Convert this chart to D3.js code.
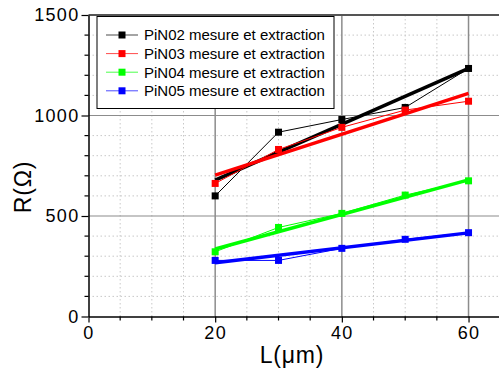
<!DOCTYPE html>
<html><head><meta charset="utf-8">
<script src="https://cdn.jsdelivr.net/npm/d3@7"></script>
<style>body{margin:0;background:#fff}svg{display:block}text{font-family:"Liberation Sans",Arial,sans-serif}</style>
</head><body>
<svg id="c" width="499" height="373"></svg>
<script>
const xValues = [20, 30, 40, 50, 60];
const pin02 = [600, 917, 980, 1040, 1234];
const pin03 = [662, 831, 941, 1027, 1071];
const pin04 = [322, 443, 513, 604, 675];
const pin05 = [279, 279, 339, 384, 417];
const fitX = [20, 60];
const fit02 = [678, 1234];
const fit03 = [703, 1110];
const fit04 = [336, 680];
const fit05 = [267, 416];
const seriesNames = ["PiN02 mesure et extraction", "PiN03 mesure et extraction", "PiN04 mesure et extraction", "PiN05 mesure et extraction"];
const seriesColors = ["#000000", "#ff0000", "#00ff00", "#0000ff"];
const xTicks = [0, 20, 40, 60];
const yTicks = [0, 500, 1000, 1500];

const svg = d3.select("#c");
const x = d3.scaleLinear().domain([0, 65]).range([88.5, 500.2]);
const y = d3.scaleLinear().domain([0, 1500]).range([316.5, 15]);

// minor dotted grid
const xMinor = d3.range(5, 65, 5).filter(v => v % 20 !== 0);
const yMinor = d3.range(100, 1500, 100).filter(v => v % 500 !== 0);
const g = svg.append("g");
g.selectAll(".xm").data(xMinor).join("line")
  .attr("x1", d => x(d)).attr("x2", d => x(d)).attr("y1", y(0)).attr("y2", y(1500))
  .attr("stroke", "#c8c8c8").attr("stroke-width", 1).attr("stroke-dasharray", "1.5,2.5");
g.selectAll(".ym").data(yMinor).join("line")
  .attr("x1", x(0)).attr("x2", x(65)).attr("y1", d => y(d)).attr("y2", d => y(d))
  .attr("stroke", "#c8c8c8").attr("stroke-width", 1).attr("stroke-dasharray", "1.5,2.5");
// major grid
g.selectAll(".xM").data([20, 40, 60]).join("line")
  .attr("x1", d => x(d)).attr("x2", d => x(d)).attr("y1", y(0)).attr("y2", y(1500))
  .attr("stroke", "#8c8c8c").attr("stroke-width", 1.5);
g.selectAll(".yM").data([500, 1000]).join("line")
  .attr("x1", x(0)).attr("x2", x(65)).attr("y1", d => y(d)).attr("y2", d => y(d))
  .attr("stroke", "#8c8c8c").attr("stroke-width", 1.2);

// top border
svg.append("line").attr("x1", x(0)).attr("x2", x(65)).attr("y1", y(1500)).attr("y2", y(1500))
  .attr("stroke", "#555").attr("stroke-width", 2);

// series
const datas = [pin02, pin03, pin04, pin05];
const fits = [fit02, fit03, fit04, fit05];
const line = d3.line().x(d => x(d[0])).y(d => y(d[1]));
const ms = 7;
datas.forEach((vals, i) => {
  const pts = xValues.map((xv, j) => [xv, vals[j]]);
  const fpts = fitX.map((xv, j) => [xv, fits[i][j]]);
  svg.append("path").attr("d", line(pts)).attr("fill", "none")
    .attr("stroke", seriesColors[i]).attr("stroke-width", 1);
  svg.append("path").attr("d", line(fpts)).attr("fill", "none")
    .attr("stroke", seriesColors[i]).attr("stroke-width", 3.5);
  svg.selectAll(null).data(pts).join("rect")
    .attr("x", d => x(d[0]) - ms / 2).attr("y", d => y(d[1]) - ms / 2)
    .attr("width", ms).attr("height", ms).attr("fill", seriesColors[i]);
});

// axes
const fmt = d3.format("d");
const xAxis = d3.axisBottom(x).tickValues(xTicks).tickFormat(fmt).tickSize(6).tickSizeOuter(0).tickPadding(4);
const xa = svg.append("g").attr("transform", `translate(0,${y(0)})`).call(xAxis);
xa.select(".domain").attr("stroke", "#000").attr("stroke-width", 1.5);
xa.selectAll(".tick line").attr("stroke", "#000").attr("stroke-width", 1.2);
xa.selectAll(".tick text").attr("font-size", 18).attr("letter-spacing", 1.3).attr("fill", "#000")
  .attr("font-family", "Liberation Sans, Arial, sans-serif");
xa.selectAll(".minor").data(d3.range(5, 65, 5).filter(v => v % 20 !== 0)).join("line")
  .attr("x1", d => x(d)).attr("x2", d => x(d)).attr("y1", 0).attr("y2", 4)
  .attr("stroke", "#000").attr("stroke-width", 1.2);

const yAxis = d3.axisLeft(y).tickValues(yTicks).tickFormat(fmt).tickSize(7).tickSizeOuter(0).tickPadding(2);
const ya = svg.append("g").attr("transform", `translate(${x(0)},0)`).call(yAxis);
ya.select(".domain").attr("stroke", "#000").attr("stroke-width", 1.5);
ya.selectAll(".tick line").attr("stroke", "#000").attr("stroke-width", 1.2);
ya.selectAll(".tick text").attr("font-size", 18).attr("letter-spacing", 1.3).attr("fill", "#000")
  .attr("font-family", "Liberation Sans, Arial, sans-serif");
ya.selectAll(".minor").data(d3.range(100, 1500, 100).filter(v => v % 500 !== 0)).join("line")
  .attr("x1", 0).attr("x2", -4).attr("y1", d => y(d)).attr("y2", d => y(d))
  .attr("stroke", "#000").attr("stroke-width", 1.2);

// axis titles
svg.append("text").attr("x", 292).attr("y", 363).attr("text-anchor", "middle")
  .attr("font-size", 23).attr("letter-spacing", 0.8).text("L(μm)");
svg.append("text").attr("transform", "translate(31,187) rotate(-90)").attr("text-anchor", "middle")
  .attr("font-size", 23).attr("letter-spacing", 0.8).text("R(Ω)");

// legend
const lg = svg.append("g");
lg.append("rect").attr("x", 97).attr("y", 16.5).attr("width", 237).attr("height", 92)
  .attr("fill", "#fff").attr("stroke", "#000").attr("stroke-width", 1);
seriesNames.forEach((name, i) => {
  const ly = 35 + i * 18.6;
  lg.append("line").attr("x1", 106).attr("x2", 138).attr("y1", ly).attr("y2", ly)
    .attr("stroke", seriesColors[i]).attr("stroke-width", 1).attr("opacity", 0.7);
  lg.append("rect").attr("x", 122 - ms / 2).attr("y", ly - ms / 2).attr("width", ms).attr("height", ms)
    .attr("fill", seriesColors[i]);
  lg.append("text").attr("x", 144).attr("y", ly + 5.3).attr("font-size", 15).attr("fill", "#000").text(name);
});
</script>
</body></html>
